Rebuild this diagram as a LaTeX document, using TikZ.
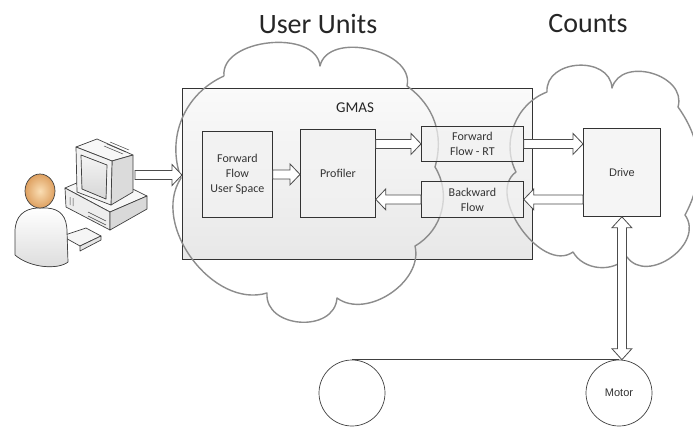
\documentclass[tikz,border=0pt]{standalone}
\usepackage{fontspec}
\setmainfont{Carlito}
\newfontfamily\arialfont{Liberation Sans}
\usetikzlibrary{calc}

\tikzset{
  frame/.style={draw=black!80, line width=0.8pt},
  stagebox/.style={frame, fill=black!5, fill opacity=0.72, text opacity=1,
    align=center, text=black!80, inner sep=0pt,
    font=\fontsize{12}{15}\selectfont},
  hwbox/.style={stagebox, font=\arialfont\fontsize{11}{13}\selectfont},
  wheel/.style={draw=black!75, line width=0.7pt, circle, minimum size=66pt, inner sep=0pt,
    font=\arialfont\fontsize{11}{13}\selectfont, text=black!80},
  cloudline/.style={draw=black!45, line width=1.4pt, line join=round},
  blockarrow/.style={draw=black!70, fill=white, line width=0.8pt, line join=miter},
  title/.style={font=\fontsize{28}{32}\selectfont, text=black!85},
  pcline/.style={draw=black!75, line width=0.7pt, line join=round},
}

% hollow block arrow between two points on one horizontal line
\newcommand\hblock[2]{%
  \draw[blockarrow] let \p1=#1, \p2=#2, \n2={\x2-sign(\x2-\x1)*10pt} in
    (\x1,\y1+4.5pt) -- (\n2,\y1+4.5pt) -- (\n2,\y1+10.5pt) -- (\x2,\y1)
    -- (\n2,\y1-10.5pt) -- (\n2,\y1-4.5pt) -- (\x1,\y1-4.5pt) -- cycle;}

\begin{document}
\begin{tikzpicture}[x=1pt, y=-1pt]
\useasboundingbox (0,0) rectangle (693,426);
\fill[white] (0,0) rectangle (693,426);

% titles
\node[title] (uu) at (318,23.5) {User Units};
\node[title] (cnt) at (588,23.5) {Counts};

% GMAS frame
\node[frame, top color=black!2, bottom color=black!9, minimum width=350pt,
      minimum height=171pt, anchor=north west, inner sep=0pt] (gmas) at (182,88) {};
\node[font=\fontsize{15}{17}\selectfont, text=black!85] (gmaslbl) at (355,107.5) {GMAS};

% clouds
\begin{scope}
\clip (0,0) rectangle (693,426);
\draw[cloudline] (224,76) to[bend left=90] (320,66)
  to[bend left=90, looseness=1.05] (407,86)
  to[bend left=35] (435,167)
  to[bend left=46] (415,246)
  to[bend left=70] (337,298)
  to[bend left=90, looseness=1.3] (267,293)
  to[bend left=70] (181,178)
  to[bend left=43] (224,76);
\draw[cloudline] (547,92) to[bend left=90, looseness=1.3] (612,88)
  to[bend left=90, looseness=1.25] (678,107)
  to[bend left=32] (685,215)
  to[bend left=90, looseness=1.25] (627,257)
  to[bend left=55] (573,252)
  to[bend left=90] (516,172)
  to[bend left=48] (547,92);
\end{scope}

% processing stages
\node[stagebox, minimum width=70pt, minimum height=86pt, anchor=north west] (ffus) at (202,131) {Forward\\Flow\\User Space};
\node[stagebox, minimum width=75pt, minimum height=88pt, anchor=north west] (prof) at (300,129) {Profiler};
\node[stagebox, minimum width=102pt, minimum height=35pt, anchor=north west] (ffrt) at (421,126) {Forward\\Flow - RT};
\node[stagebox, minimum width=102pt, minimum height=36pt, anchor=north west] (bwd) at (421,181) {Backward\\Flow};
\node[hwbox, minimum width=77pt, minimum height=88pt, anchor=north west] (drive) at (583,128) {Drive};

% belt with motor
\node[wheel] (pulley) at (352,393) {};
\node[wheel] (motor) at (619,393) {Motor};
\draw[draw=black!75, line width=0.7pt] (pulley.north) -- (motor.north);

% workstation
\coordinate (pc) at (135,175);
% desktop case
\filldraw[pcline, fill=black!3] (65,188) -- (100,173) -- (147,196) -- (110,212) -- cycle;
\filldraw[pcline, fill=black!7] (65,188) -- (110,212) -- (110,230) -- (66,207) -- cycle;
\filldraw[pcline, fill=black!15] (110,212) -- (147,196) -- (147,209) -- (110,230) -- cycle;
\draw[pcline, line width=0.5pt] (88,212) -- (106,221) (88,216) -- (106,225) (70,197) -- (70,205) (73,198) -- (73,206);
% monitor
\filldraw[pcline, fill=black!3] (76,147) -- (97,139) -- (133,155) -- (112,161) -- cycle;
\filldraw[pcline, fill=black!14] (112,161) -- (133,155) -- (133,192) -- (111,205) -- cycle;
\filldraw[pcline, fill=black!5] (76,147) -- (112,161) -- (111,205) -- (77,192) -- cycle;
\filldraw[pcline, top color=black!4, bottom color=black!16] (81,155) -- (107,165) -- (106,199) -- (82,189) -- cycle;
\draw[pcline, line width=0.5pt] (104,146) -- (123,154) (107,144) -- (126,152) (110,142) -- (129,150);
% keyboard
\filldraw[pcline, fill=black!4] (62,236) -- (86,228) -- (101,236) -- (80,246) -- cycle;
\filldraw[pcline, fill=black!10] (80,246) -- (101,236) -- (101,240) -- (80,251) -- cycle;
% user
\filldraw[pcline, top color=white, bottom color=black!14] (15,255) -- (15,232)
  .. controls (15,216) and (24,209) .. (37,208) -- (47,208)
  .. controls (60,209) and (67,216) .. (67,232) -- (68,262)
  .. controls (58,270) and (30,268) .. (15,255) -- cycle;
\draw[pcline, inner color={rgb,255:red,250;green,222;blue,180}, outer color={rgb,255:red,222;green,160;blue,96}]
  (40,191) ellipse [x radius=15pt, y radius=17pt];

% data flow
\hblock{(pc)}{(gmas.west |- pc)}
\hblock{(ffus.east)}{(prof.west |- ffus.east)}
\hblock{(prof.east |- ffrt.west)}{(ffrt.west)}
\hblock{(bwd.west)}{(prof.east |- bwd.west)}
\hblock{(ffrt.east)}{(drive.west |- ffrt.east)}
\hblock{(drive.west |- bwd.east)}{(bwd.east)}
\draw[blockarrow] let \p1=(drive.south), \p2=(motor.north) in
  (\x1,\y1) -- (\x1+10pt,\y1-11pt) -- (\x1+4.5pt,\y1-11pt) -- (\x1+4.5pt,\y2+11pt)
  -- (\x1+10pt,\y2+11pt) -- (\x1,\y2) -- (\x1-10pt,\y2+11pt) -- (\x1-4.5pt,\y2+11pt)
  -- (\x1-4.5pt,\y1-11pt) -- (\x1-10pt,\y1-11pt) -- cycle;
\end{tikzpicture}
\end{document}
